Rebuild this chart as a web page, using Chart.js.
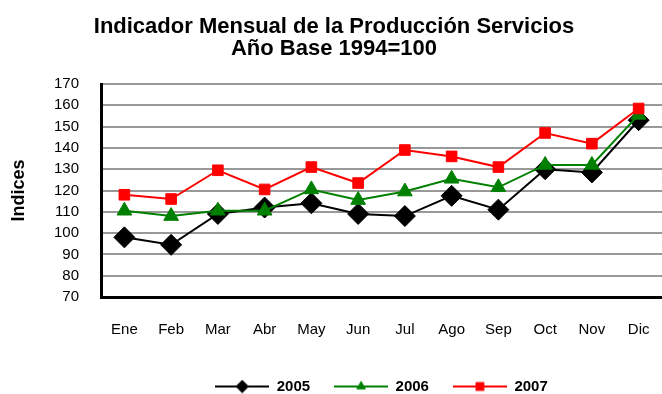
<!DOCTYPE html>
<html>
<head>
<meta charset="utf-8">
<script src="https://cdn.jsdelivr.net/npm/chart.js@4/dist/chart.umd.min.js"></script>
<style>
  html, body { margin: 0; padding: 0; background: #fff; }
  #wrap { width: 662px; height: 394px; }
</style>
</head>
<body>
<div id="wrap"><canvas id="grafico" width="662" height="394"></canvas></div>
<script>
const meses = ["Ene", "Feb", "Mar", "Abr", "May", "Jun", "Jul", "Ago", "Sep", "Oct", "Nov", "Dic"];
const serie2005 = [98, 94.5, 109, 112, 114, 109, 108, 117.5, 111, 130, 128.5, 153];
const serie2006 = [110.5, 108, 110.5, 110.5, 120.5, 115.5, 119.5, 125.5, 121.5, 132, 132, 155.5];
const serie2007 = [118, 116, 129.5, 120.5, 131, 123.5, 139, 136, 131, 147, 142, 158.5];
const ejeY = { min: 70, max: 170, paso: 10 };

Chart.defaults.font.family = '"Liberation Sans", Arial, sans-serif';
Chart.defaults.color = "#000";

// small picture of line + marker for each legend entry
function iconoLeyenda(color, estilo, radio) {
    const c = document.createElement("canvas");
    c.width = 54;
    c.height = 14;
    const g = c.getContext("2d");
    g.strokeStyle = color;
    g.lineWidth = 2;
    g.beginPath();
    g.moveTo(0, 7);
    g.lineTo(54, 7);
    g.stroke();
    g.fillStyle = color;
    Chart.helpers.drawPoint(g, { pointStyle: estilo, radius: radio, borderWidth: 0 }, 27, 7);
    g.fill();
    return c;
}

const series = [
    { label: "2005", data: serie2005, color: "#000000", estilo: "rectRot", radio: 10.5, leyenda: 6.5, order: 3 },
    { label: "2006", data: serie2006, color: "#008000", estilo: "triangle", radio: 8.5, leyenda: 5.5, order: 2 },
    { label: "2007", data: serie2007, color: "#ff0000", estilo: "rect", radio: 7.5, leyenda: 6, order: 1 },
];

const datasets = series.map((s) => ({
    label: s.label,
    data: s.data,
    order: s.order,
    borderColor: s.color,
    backgroundColor: s.color,
    borderWidth: 2,
    pointStyle: s.estilo,
    pointRadius: s.radio,
    pointBorderWidth: 1,
    pointBackgroundColor: s.color,
    pointBorderColor: s.color,
    tension: 0,
}));

const iconos = series.map((s) => iconoLeyenda(s.color, s.estilo, s.leyenda));

new Chart(document.getElementById("grafico"), {
    type: "line",
    data: { labels: meses, datasets: datasets },
    options: {
        responsive: false,
        animation: false,
        layout: { autoPadding: false, padding: { left: 0, right: -6, top: 0, bottom: -10 } },
        plugins: {
            tooltip: { enabled: false },
            title: {
                display: true,
                text: ["Indicador Mensual de la Producción Servicios", "Año Base 1994=100"],
                font: { size: 22, weight: "bold", lineHeight: 1.0 },
                color: "#000",
                padding: { top: 16, bottom: 24 },
            },
            legend: {
                display: true,
                position: "bottom",
                fullSize: false,
                labels: {
                    usePointStyle: true,
                    pointStyleWidth: 54,
                    padding: 24,
                    color: "#000",
                    font: { size: 15, weight: "bold" },
                    generateLabels: () =>
                        series.map((s, i) => ({
                            text: s.label,
                            pointStyle: iconos[i],
                            fillStyle: s.color,
                            strokeStyle: s.color,
                            lineWidth: 0,
                            hidden: false,
                            datasetIndex: i,
                        })),
                },
            },
        },
        scales: {
            x: {
                type: "category",
                offset: true,
                grid: { display: false, drawTicks: false },
                border: { display: true, color: "#000", width: 3 },
                ticks: { font: { size: 15 }, color: "#000", padding: 24, maxRotation: 0 },
                afterFit: (scale) => {
                    scale.height = 58;
                    scale.paddingLeft = 0;
                    scale.paddingRight = 0;
                },
            },
            y: {
                min: ejeY.min,
                max: ejeY.max,
                ticks: { stepSize: ejeY.paso, font: { size: 15 }, color: "#000", padding: 22 },
                grid: { color: "#999999", lineWidth: 2, drawTicks: false },
                border: { display: true, color: "#000", width: 3 },
                title: {
                    display: true,
                    text: "Indices",
                    font: { size: 18, weight: "bold", lineHeight: 1.2 },
                    color: "#000",
                    padding: { top: 8, bottom: 0 },
                },
                afterFit: (scale) => { scale.width = 101; },
            },
        },
    },
});
</script>
</body>
</html>
